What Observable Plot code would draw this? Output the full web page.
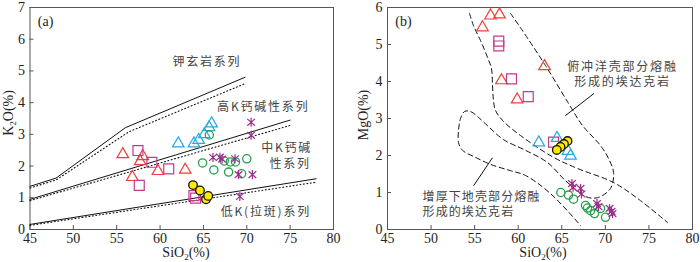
<!DOCTYPE html>
<html><head><meta charset="utf-8">
<script src="https://cdn.jsdelivr.net/npm/d3@7"></script>
<script src="https://cdn.jsdelivr.net/npm/@observablehq/plot@0.6"></script>
<style>
body{margin:0;background:#fff;}
#wrap{position:relative;width:700px;height:262px;display:flex;}
#wrap svg{display:block;}
</style></head><body><div id="wrap"></div>
<script>
// ---------- shared ticks ----------
const xTicks = [45, 50, 55, 60, 65, 70, 75, 80];
const yTicksA = [0, 1, 2, 3, 4, 5, 6, 7];
const yTicksB = [0, 1, 2, 3, 4, 5, 6];

// ---------- panel (a): K2O vs SiO2 ----------
const aTopSolid = [[45,1.36],[48,1.62],[56,3.21],[69.8,4.8]];
const aTopDotted = [[45,1.31],[48,1.56],[56.4,3.08],[69.8,4.6]];
const aMidSolid = [[45,0.95],[75,3.45]];
const aMidDotted = [[45,0.91],[75,3.28]];
const aLowSolid = [[45,0.16],[78,1.6]];
const aLowDotted = [[45,0.13],[78,1.49]];

const aRedTri = [[55.7,2.37],[58.0,2.31],[57.7,2.15],[56.8,1.65],[59.75,1.84],[62.9,1.88]];
const aSquare = [[57.45,2.49],[59.06,2.12],[61.0,1.91],[57.6,1.39],[63.9,1.07],[64.1,0.99]];
const aBlueTri = [[62.1,2.71],[63.9,2.71],[64.45,2.82],[65.1,3.0],[65.65,3.22],[65.95,3.34]];
const aGreen = [[65.68,2.98],[64.9,2.10],[66.2,1.88],[67.4,2.16],[67.9,1.81],[68.1,2.13],[68.7,2.13],[69.4,1.76],[70.0,2.23]];
const aAster = [[66.1,2.27],[66.9,2.28],[67.15,2.22],[68.65,2.23],[69.05,1.73],[70.65,1.73],[69.2,1.04],[70.5,2.97],[70.5,3.38]];
const aYellow = [[63.8,1.40],[64.6,1.23],[65.3,0.95],[65.55,1.06]];

const aLabels = ["钾玄岩系列", "高K钙碱性系列", "中K钙碱", "性系列", "低K(拉斑)系列"];
const aLabelPos = [[65.4,5.27],[71.9,3.85],[74.6,2.56],[75.0,2.05],[72.2,0.54]];

// ---------- panel (b): MgO vs SiO2 ----------
const bLine1 = [[54.41,5.84],[54.87,5.51],[55.67,5.11],[56.48,4.65],[56.93,4.35],[57.05,3.89],[57.16,3.49],[57.39,3.22],[58.2,2.95],[60.26,2.54],[64.05,1.95],[66.8,1.65],[70.94,1.27],[74.03,0.78],[77.13,0.19]];
const bLine2 = [[59.12,5.84],[60.3,5.44],[63.13,4.43],[65.77,3.41],[67.38,2.81],[69.44,2.27],[70.36,1.92],[70.94,1.54],[70.59,1.11],[69.1,0.86],[67.72,0.89],[65.43,1.32],[63.36,1.81],[60.84,2.14],[58.31,2.43],[56.59,2.78],[55.44,3.03],[54.52,3.19],[53.84,3.19],[53.38,3.0],[53.15,2.68],[53.15,2.35],[53.61,2.14],[55.1,1.95],[56.82,1.76],[59.12,1.59],[60.84,1.46],[63.71,0.97],[67.15,0.11]];
const bLeader1 = [[68.66,3.67],[65.43,3.08]];
const bLeader2 = [[57.02,1.93],[54.9,1.19]];

const bRedTri = [[56.82,5.78],[57.85,5.81],[55.9,5.46],[58.08,4.03],[59.88,3.51],[63.02,4.41]];
const bSquare = [[57.77,5.09],[57.77,4.96],[59.23,4.07],[61.15,3.59],[64.05,2.36]];
const bBlueTri = [[62.36,2.35],[64.45,2.47],[65.71,2.12],[66.0,1.99]];
const bGreen = [[64.89,1.0],[65.77,0.93],[66.35,0.82],[67.72,0.65],[67.95,0.58],[68.3,0.51],[68.75,0.43],[69.44,0.57],[70.02,0.33]];
const bAster = [[66.17,1.24],[66.29,1.14],[67.15,1.11],[67.26,0.96],[69.04,0.70],[69.21,0.62],[70.48,0.57],[70.71,0.49],[70.82,0.43]];
const bYellow = [[65.66,2.39],[65.25,2.31],[64.85,2.23],[64.43,2.15]];

const bLabelsR = ["俯冲洋壳部分熔融", "形成的埃达克岩"];
const bLabelsRPos = [[71.97,4.38],[71.97,3.98]];
const bLabelsL = ["增厚下地壳部分熔融", "形成的埃达克岩"];
const bLabelsLPos = [[49.02,0.88],[49.02,0.46]];

// ---------- styles ----------
const serif = "'Liberation Serif','Times New Roman',serif";
const cjk = "'Noto Sans CJK SC',sans-serif";
const C = {red:"#ec3f36", mag:"#c23a8e", blue:"#2aa8e0", green:"#22a04a", purple:"#9a2f8c", yellow:"#ffea00"};

const starSym = {draw(ctx, size){
  const r = Math.sqrt(size/Math.PI)*1.05;
  ctx.moveTo(0,-r); ctx.lineTo(0,r);
  const a = r*0.85, b = r*0.75;
  ctx.moveTo(-a,-b); ctx.lineTo(a,b);
  ctx.moveTo(-a,b); ctx.lineTo(a,-b);
}};

const X = d => d[0], Y = d => d[1];
function pts(data, o) { return Plot.dot(data, {x: X, y: Y, ...o}); }
function markers(red, sq, blue, green, ast, yel) {
  return [
    pts(red, {symbol:"triangle", r:4.3, stroke:C.red, fill:"none", strokeWidth:1.2}),
    pts(sq, {symbol:"square", r:5.6, stroke:C.mag, fill:"none", strokeWidth:1.2}),
    pts(blue, {symbol:"triangle", r:4.3, stroke:C.blue, fill:"none", strokeWidth:1.2}),
    pts(green, {symbol:"circle", r:4.1, stroke:C.green, fill:"none", strokeWidth:1.3}),
    pts(ast, {symbol:starSym, r:4.3, stroke:C.purple, fill:"none", strokeWidth:1.2}),
    pts(yel, {symbol:"circle", r:4.3, stroke:"#111", fill:C.yellow, strokeWidth:1.3})
  ];
}
function labels(texts, pos, anchor) {
  return Plot.text(texts, {x: (d, i) => pos[i][0], y: (d, i) => pos[i][1], textAnchor: anchor,
    fontFamily: cjk, fontSize: 12, fill: "#444"});
}
function base({ml, mr, yDomain, yTicks, marks}) {
  return Plot.plot({
    width: 350, height: 262, marginLeft: ml, marginRight: mr, marginTop: 7, marginBottom: 33,
    style: {fontFamily: serif, fontSize: "14px", color: "#222", background: "white", overflow: "visible"},
    x: {domain: [45, 80], label: null},
    y: {domain: yDomain, label: null},
    marks: [
      Plot.frame({stroke: "#555"}),
      Plot.axisX(xTicks, {tickSize: -4, tickPadding: 8, fontSize: 14, label: null, stroke: "#555"}),
      Plot.axisY(yTicks, {tickSize: -4, tickPadding: 9, fontSize: 14, label: null, stroke: "#555"}),
      ...marks
    ]
  });
}
const lineO = {x: X, y: Y, stroke: "#111", strokeWidth: 1};
const dotO = {...lineO, strokeDasharray: "1,2.5", strokeWidth: 1.1};

const plotA = base({ml: 29.5, mr: 17, yDomain: [0, 7], yTicks: yTicksA, marks: [
  Plot.line(aTopSolid, lineO), Plot.line(aTopDotted, dotO),
  Plot.line(aMidSolid, lineO), Plot.line(aMidDotted, dotO),
  Plot.line(aLowSolid, lineO), Plot.line(aLowDotted, dotO),
  ...markers(aRedTri, aSquare, aBlueTri, aGreen, aAster, aYellow),
  Plot.text(["(a)"], {x: () => 45.9, y: () => 6.56, textAnchor: "start", fontSize: 14, fill: "#222"}),
  labels(aLabels, aLabelPos, "middle")
]});

const plotB = base({ml: 37, mr: 8, yDomain: [0, 6], yTicks: yTicksB, marks: [
  Plot.line(bLine1, {...lineO, curve: "catmull-rom", strokeDasharray: "5,3.5"}),
  Plot.line(bLine2, {...lineO, curve: "catmull-rom", strokeDasharray: "5,3.5"}),
  Plot.line(bLeader1, lineO), Plot.line(bLeader2, lineO),
  ...markers(bRedTri, bSquare, bBlueTri, bGreen, bAster, bYellow),
  Plot.text(["(b)"], {x: () => 45.9, y: () => 5.62, textAnchor: "start", fontSize: 14, fill: "#222"}),
  labels(bLabelsR, bLabelsRPos, "middle"),
  labels(bLabelsL, bLabelsLPos, "start")
]});

const wrap = document.getElementById("wrap");
wrap.append(plotA, plotB);

// letter spacing for Chinese labels
d3.selectAll("#wrap svg text").filter(function(){ return /[\u4e00-\u9fff]/.test(this.textContent); })
  .style("letter-spacing", function(){
    const g = this.closest("g");
    return g && g.getAttribute("text-anchor") === "start" ? "1.1px" : "1.8px";
  });

function title(svg, x, y, rot, parts) {
  const t = d3.select(svg).append("text")
    .attr("transform", `translate(${x},${y})` + (rot ? " rotate(-90)" : ""))
    .attr("text-anchor", "middle").attr("font-family", serif).attr("font-size", 14).attr("fill", "#222");
  parts.forEach(([s, sub]) => {
    const ts = t.append("tspan").text(s);
    if (sub) ts.attr("font-size", 9).attr("dy", 3);
    else if (t.selectAll("tspan").size() > 1) ts.attr("dy", -3);
  });
}
title(plotA, 13, 113, true, [["K"], ["2", true], ["O(%)"]]);
title(plotA, 186, 257, false, [["SiO"], ["2", true], ["(%)"]]);
title(plotB, 18, 115, true, [["MgO(%)"]]);
title(plotB, 193, 257, false, [["SiO"], ["2", true], ["(%)"]]);
</script></body></html>
